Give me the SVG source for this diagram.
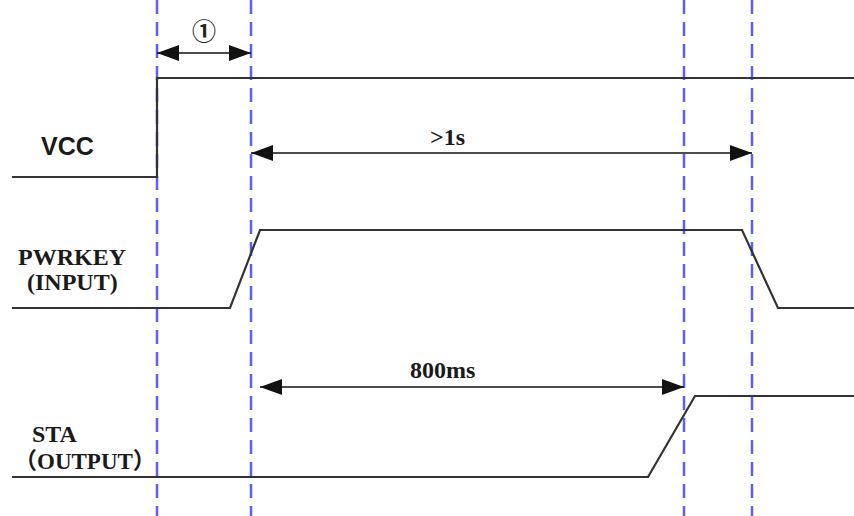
<svg xmlns="http://www.w3.org/2000/svg" width="854" height="516" viewBox="0 0 854 516">
<style>
.sig{fill:none;stroke:#333;stroke-width:2.2;stroke-linejoin:miter}
.dash{stroke:#5c5cff;stroke-width:2.5;stroke-dasharray:14 8;fill:none}
.arr{stroke:#111;stroke-width:1.6;fill:none;marker-start:url(#ah);marker-end:url(#ah)}
.lbl{font-family:"Liberation Serif","Noto Sans CJK SC",serif;font-weight:bold;fill:#1a1a1a}
</style>
<defs>
<marker id="ah" viewBox="0 0 22 16" refX="22" refY="8" markerWidth="22" markerHeight="16" markerUnits="userSpaceOnUse" orient="auto-start-reverse">
<path d="M0,0 L22,8 L0,16 Z" fill="#111"/>
</marker>
</defs>
<rect width="854" height="516" fill="#fff"/>
<g id="guides">
<line class="dash" x1="157" y1="0" x2="157" y2="516"/>
<line class="dash" x1="251" y1="0" x2="251" y2="516"/>
<line class="dash" x1="684" y1="0" x2="684" y2="516"/>
<line class="dash" x1="752" y1="0" x2="752" y2="516"/>
</g>
<g id="vcc">
<polyline class="sig" points="12,177 157,177 157,78 854,78"/>
<text x="41" y="155" font-family="Liberation Sans,Arial,sans-serif" font-weight="bold" font-size="25" fill="#1a1a1a">VCC</text>
</g>
<g id="pwrkey">
<polyline class="sig" points="12,308 230,308 260,230 742,230 778,308 854,308"/>
<text class="lbl" x="18" y="265" font-size="24">PWRKEY</text>
<text class="lbl" x="27" y="290" font-size="24">(INPUT)</text>
</g>
<g id="sta">
<polyline class="sig" points="12,477 648,477 695,396 854,396"/>
<text class="lbl" x="32" y="442" font-size="24">STA</text>
<text class="lbl" x="14" y="469" font-size="23">（OUTPUT）</text>
</g>
<g id="connectors">
<line class="arr" x1="157" y1="53" x2="251" y2="53"/>
<line class="arr" x1="251" y1="153" x2="752" y2="153"/>
<line class="arr" x1="260" y1="387" x2="684" y2="387"/>
</g>
<g id="labels">
<text x="204" y="40" font-family="Liberation Sans,'Noto Sans CJK SC',sans-serif" font-size="24" font-weight="bold" text-anchor="middle" fill="#222">①</text>
<text class="lbl" x="430" y="145" font-size="24">&gt;1s</text>
<text class="lbl" x="410" y="378" font-size="24">800ms</text>
</g>
</svg>
